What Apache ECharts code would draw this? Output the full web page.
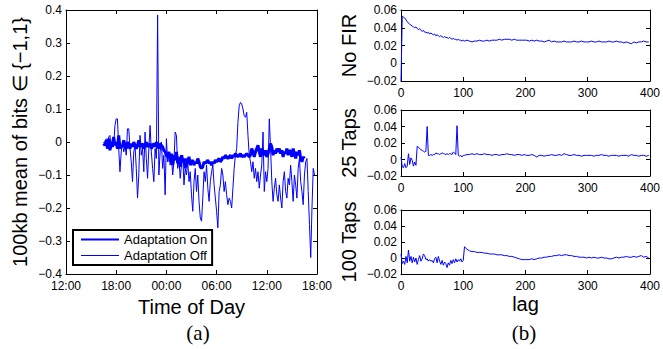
<!DOCTYPE html>
<html><head><meta charset="utf-8">
<script src="https://cdn.jsdelivr.net/npm/echarts@6/dist/echarts.min.js"></script>
<style>html,body{margin:0;padding:0;background:#fff}#c{width:663px;height:349px}</style>
</head><body><div id="c"></div>
<script>
// ---------- data ----------
const timeTicks = ['12:00', '18:00', '00:00', '06:00', '12:00', '18:00']; // every 6 h from 12:00
const tStart = 4.5;   // hours after 12:00 of first sample
const tStep = 0.15;   // hours between samples
const adaptOn = [
 -.005,-.01,.005,-.02,.01,-.025,0,-.015,.015,-.01,
 0,-.02,.02,-.02,-.01,-.015,.005,-.01,-.02,0,
 -.01,-.02,-.005,-.015,0,-.01,-.02,-.01,.005,-.015,
 -.01,-.005,-.02,-.01,0,-.015,-.01,-.005,-.02,-.01,
 -.005,-.015,0,-.01,-.02,-.005,-.01,-.015,-.025,-.03,
 -.04,-.045,-.03,-.06,-.035,-.07,-.04,-.055,-.03,-.065,
 -.045,-.075,-.04,-.06,-.05,-.08,-.05,-.065,-.045,-.07,
 -.06,-.055,-.07,-.06,-.065,-.05,-.06,-.075,-.08,-.075,
 -.06,-.065,-.06,-.055,-.065,-.06,-.07,-.06,-.065,-.055,
 -.06,-.055,-.05,-.06,-.055,-.045,-.05,-.04,-.045,-.05,
 -.045,-.04,-.05,-.04,-.045,-.035,-.04,-.045,-.04,-.035,
 -.045,-.04,-.045,-.04,-.035,-.04,-.045,-.04,-.02,-.03,
 -.045,-.03,-.02,-.01,-.03,-.045,-.02,-.03,-.04,-.025,
 -.045,-.035,-.02,-.005,-.015,-.04,-.025,-.035,-.02,-.03,
 -.02,-.035,-.025,-.045,-.03,-.035,-.02,-.04,-.025,-.03,
 -.045,-.02,-.035,-.05,-.03,-.04,-.025,-.05,-.06,-.045,
 -.05
];
const adaptOff = [
 0,-.01,.01,-.02,.015,.02,-.02,.01,-.01,.05,
 .07,.07,-.02,-.09,-.03,0,-.03,-.01,-.04,.04,
 .04,-.02,-.06,-.12,-.03,-.01,-.08,-.17,-.1,.02,
 -.04,-.02,-.09,.03,-.05,-.11,-.02,.05,-.03,-.08,
 -.12,-.02,-.05,.385,-.1,-.03,0,-.08,-.04,-.16,
 .01,-.06,-.03,-.07,-.04,-.1,-.06,.03,.02,-.08,
 -.05,-.11,-.07,-.04,-.13,-.08,-.1,-.06,-.12,-.09,
 -.16,-.21,-.12,-.08,-.15,-.1,-.18,-.23,-.24,-.17,
 -.09,-.12,-.07,-.14,-.18,-.12,-.09,-.07,-.13,-.17,
 -.21,-.26,-.15,-.13,-.08,-.1,-.15,-.12,-.16,-.19,
 -.17,-.18,-.2,-.14,-.08,-.04,-.02,.06,.11,.12,
 .115,.1,.08,.075,.09,.02,-.04,-.06,-.09,-.06,
 -.11,-.08,-.12,-.09,-.14,-.1,-.07,.03,-.15,-.09,
 -.12,-.08,.07,-.02,-.12,-.18,-.14,-.11,-.16,-.18,
 -.13,-.17,-.2,-.12,-.09,-.15,-.17,-.11,-.13,-.07,
 -.12,-.18,-.1,-.13,-.17,-.08,-.05,-.12,-.15,-.19,
 -.1,-.06,-.05,-.15,-.25,-.35,-.2,-.08,-.1
];
// lags: 0..100 step 2, then 102..398 step 4
const lags = [];
for (let l = 0; l <= 100; l += 2) lags.push(l);
for (let l = 102; l <= 398; l += 4) lags.push(l);
// autocorrelation values in thousandths
const noFir = [
 -20,53,52,51,49,47,45,44,43,42,
 41,40,41,39,38,39,37,36,37,35,
 35,34,35,33,34,33,32,33,31,32,
 31,30,31,30,29,30,29,29,28,29,
 28,27,28,27,27,26,27,26,26,25,
 26,
 25,26,25,24,25,25,26,25,25,26,25,26,
 26,26,27,26,27,27,27,26,27,26,26,26,26,
 26,25,26,25,26,25,25,24,25,26,24,25,24,
 24,24,25,24,24,24,25,24,24,25,24,24,24,
 25,24,24,25,24,24,24,25,24,24,25,24,24,
 23,24,23,22,24,23,24,24,25,24,24
];
const taps25 = [
 3,-9,-10,-5,-10,-8,7,-6,2,-1,
 -8,-3,-7,16,15,13,12,11,10,9,
 10,40,5,5,6,5,6,6,8,7,
 7,6,7,8,7,7,6,7,6,7,
 7,6,9,8,6,41,5,4,5,3,
 5,
 5,6,6,7,6,7,6,6,7,6,6,5,
 6,6,5,6,6,7,6,6,5,6,6,5,6,
 5,5,6,5,3,5,5,4,5,5,6,5,5,
 6,5,7,6,5,5,6,5,5,4,5,5,5,
 5,4,5,5,6,5,5,4,5,5,5,4,5,
 5,5,4,6,5,5,4,5,5,4,5
];
const taps100 = [
 5,-7,-4,-8,2,-6,10,-4,2,-6,
 1,-5,0,-8,-2,3,-4,-1,5,3,
 -2,-1,-4,-2,-4,-3,-6,-1,1,-6,
 2,-4,-8,-3,-9,-5,-7,-12,-6,-9,
 -3,-7,-2,-6,-1,-5,-2,-4,-1,-5,
 -3,
 14,11,9,8,8,7,7,7,6,6,5,5,
 5,4,4,4,3,3,2,2,1,0,-1,-2,-2,
 -2,-2,-1,-2,-1,0,0,1,1,2,2,3,3,
 4,3,4,4,3,3,2,2,1,1,1,0,1,
 0,1,0,0,1,0,0,-1,-1,0,1,0,1,
 1,2,1,1,2,1,2,3,1,2,0
];
const panelNames = ['No FIR', '25 Taps', '100 Taps'];
const panelData = [noFir, taps25, taps100];

// ---------- build ----------
const FONT = '"Liberation Sans", Arial, Helvetica, sans-serif';
const minus = s => s.replace('-', '\u2212');
const timeSeries = arr => arr.map((v, i) => [tStart + i * tStep, v]);
const lagSeries = arr => arr.map((v, i) => [lags[i], v / 1000]);

const grids = [
  {left: 66, top: 10, width: 251, height: 264},
  {left: 401, top: 10, width: 252, height: 71},
  {left: 401, top: 110, width: 252, height: 66},
  {left: 401, top: 210, width: 252, height: 64}
];
const lineAx = {show: true, onZero: false, lineStyle: {color: '#000', width: 1}};
const tickAx = {show: true, inside: true, length: 4, lineStyle: {color: '#000', width: 1}};
const lbl = {color: '#000', fontSize: 12, fontFamily: FONT};

const xAxis = [], yAxis = [];
grids.forEach((g, gi) => {
  const left = gi === 0;
  const xr = left ? {min: 0, max: 30, interval: 6} : {min: 0, max: 400, interval: 100};
  const yr = left ? {min: -0.4, max: 0.4, interval: 0.1} : {min: -0.02, max: 0.06, interval: 0.02};
  const xName = left ? 'Time of Day' : (gi === 3 ? 'lag' : '');
  const yName = left ? '100kb mean of bits \u2208 {\u22121,1}' : panelNames[gi - 1];
  xAxis.push(Object.assign({
    type: 'value', gridIndex: gi, position: 'bottom',
    axisLine: lineAx, axisTick: tickAx, splitLine: {show: false},
    axisLabel: Object.assign({}, lbl, {margin: 6, showMinLabel: true, showMaxLabel: true,
      formatter: v => left ? timeTicks[Math.round(v / 6)] : String(Math.round(v))}),
    name: xName, nameLocation: 'middle', nameGap: 20,
    nameTextStyle: {color: '#000', fontSize: 20, fontFamily: FONT}
  }, xr));
  xAxis.push(Object.assign({
    type: 'value', gridIndex: gi, position: 'top',
    axisLine: lineAx, axisTick: tickAx, splitLine: {show: false}, axisLabel: {show: false}
  }, xr));
  yAxis.push(Object.assign({
    type: 'value', gridIndex: gi, position: 'left',
    axisLine: lineAx, axisTick: tickAx, splitLine: {show: false},
    axisLabel: Object.assign({}, lbl, {margin: 4, showMinLabel: true, showMaxLabel: true,
      formatter: v => {
        const r = left ? Math.round(v * 10) / 10 : Math.round(v * 100) / 100;
        return r === 0 ? '0' : minus(String(r));
      }}),
    name: yName, nameLocation: 'middle', nameGap: left ? 36 : 42, nameRotate: 90,
    nameTextStyle: {color: '#000', fontSize: 20, fontFamily: FONT}
  }, yr));
  yAxis.push(Object.assign({
    type: 'value', gridIndex: gi, position: 'right',
    axisLine: lineAx, axisTick: tickAx, splitLine: {show: false}, axisLabel: {show: false}
  }, yr));
});

const series = [
  {name: 'Adaptation On', type: 'line', xAxisIndex: 0, yAxisIndex: 0, data: timeSeries(adaptOn),
   symbol: 'none', lineStyle: {color: '#0000ff', width: 3}, itemStyle: {color: '#0000ff'}, z: 3},
  {name: 'Adaptation Off', type: 'line', xAxisIndex: 0, yAxisIndex: 0, data: timeSeries(adaptOff),
   symbol: 'none', lineStyle: {color: '#0000ff', width: 1}, itemStyle: {color: '#0000ff'}, z: 2}
];
panelData.forEach((arr, k) => {
  series.push({type: 'line', xAxisIndex: 2 * (k + 1), yAxisIndex: 2 * (k + 1), data: lagSeries(arr),
    symbol: 'none', lineStyle: {color: '#0000ff', width: 1}, itemStyle: {color: '#0000ff'}});
});

const chart = echarts.init(document.getElementById('c'), null, {renderer: 'svg'});
chart.setOption({
  animation: false,
  backgroundColor: '#fff',
  grid: grids,
  xAxis, yAxis, series,
  legend: {
    data: [
      'Adaptation On',
      {name: 'Adaptation Off', lineStyle: {width: 1, color: '#0000ff'}}
    ],
    left: 73, top: 230, orient: 'vertical',
    padding: [3, 5, 3, 7], itemGap: 3, itemWidth: 38, itemHeight: 14,
    borderColor: '#000', borderWidth: 2, backgroundColor: '#fff',
    itemStyle: {opacity: 0},
    textStyle: {color: '#000', fontSize: 13, fontFamily: FONT, fontWeight: 'normal'}
  },
  graphic: [
    {type: 'text', x: 198, y: 333, style: {text: '(a)', fill: '#000', font: '21px "Liberation Serif", "Times New Roman", serif', textAlign: 'center', textVerticalAlign: 'middle'}},
    {type: 'text', x: 524, y: 333, style: {text: '(b)', fill: '#000', font: '21px "Liberation Serif", "Times New Roman", serif', textAlign: 'center', textVerticalAlign: 'middle'}}
  ]
});
</script></body></html>
